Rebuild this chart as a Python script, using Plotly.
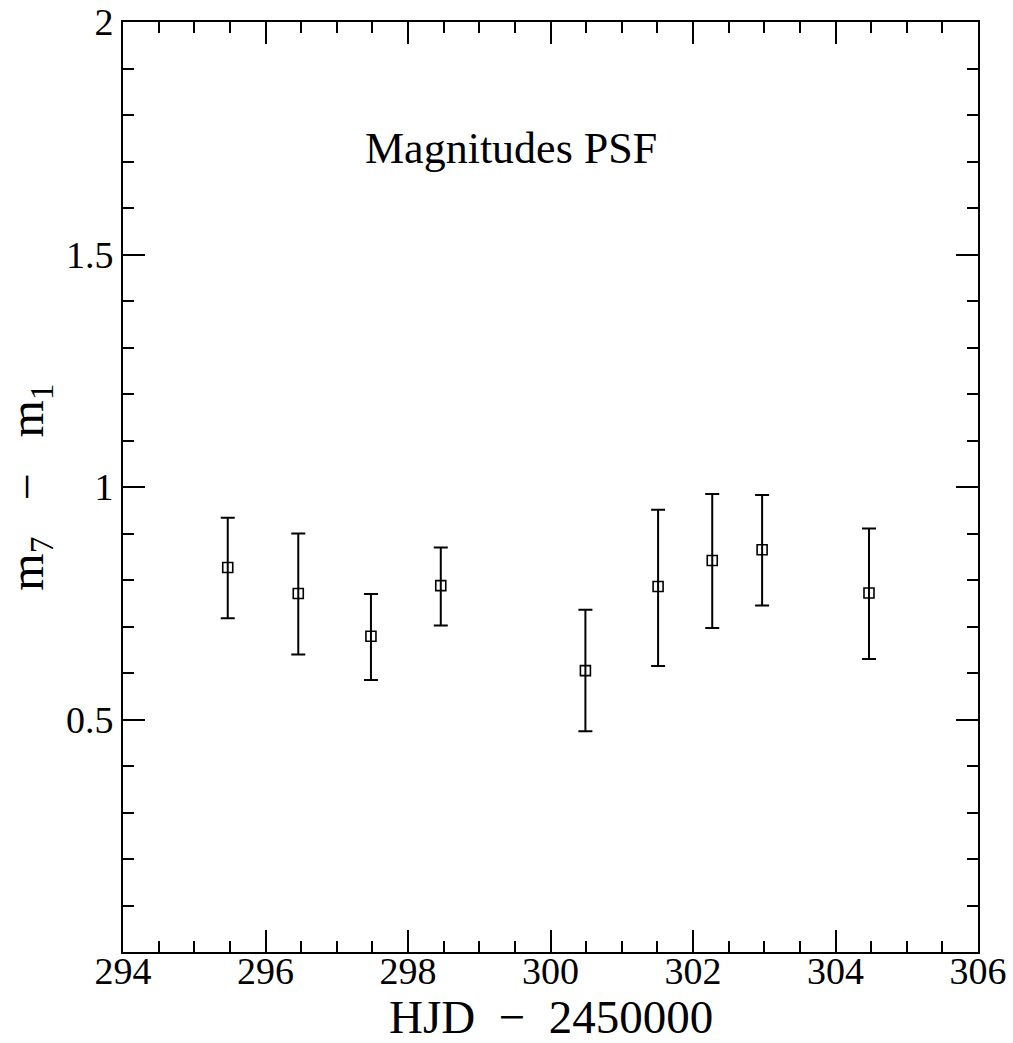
import plotly.graph_objects as go

# Light-curve data: heliocentric Julian date offset, colour difference and its error bars
hjd = [295.47, 296.46, 297.48, 298.46, 300.49, 301.51, 302.27, 302.97, 304.47]
dmag = [0.827, 0.771, 0.679, 0.788, 0.605, 0.786, 0.842, 0.865, 0.772]
err_plus = [0.107, 0.129, 0.091, 0.082, 0.131, 0.165, 0.143, 0.118, 0.139]
err_minus = [0.109, 0.131, 0.094, 0.086, 0.130, 0.171, 0.145, 0.120, 0.142]

x_ticks = [294, 296, 298, 300, 302, 304, 306]
y_ticks = [0.5, 1, 1.5, 2]
y_tick_text = ["0.5", "1", "1.5", "2"]

serif = "Liberation Serif, DejaVu Serif, serif"

fig = go.Figure()
fig.add_trace(go.Scatter(
    x=hjd, y=dmag, mode="markers",
    marker=dict(symbol="square-open", size=10, color="black",
                line=dict(width=1.6, color="black")),
    error_y=dict(type="data", symmetric=False, array=err_plus, arrayminus=err_minus,
                 color="black", thickness=2, width=7),
    showlegend=False,
))

fig.add_annotation(x=299.45, y=1.727, xref="x", yref="y", text="Magnitudes PSF",
                   showarrow=False, font=dict(family=serif, size=44, color="black"))

# x-axis title placed below the tick labels
fig.add_annotation(x=0.5, y=-0.0695, xref="paper", yref="paper", text="HJD  −  2450000",
                   showarrow=False, yanchor="middle",
                   font=dict(family=serif, size=47, color="black"))

axis_common = dict(
    showgrid=False, zeroline=False, showline=True, linecolor="black", linewidth=2,
    ticks="inside", mirror="allticks", tickcolor="black", tickwidth=2, ticklen=22,
    tickfont=dict(family=serif, size=38, color="black"), automargin=False,
)

fig.update_xaxes(
    range=[294, 306], tickvals=x_ticks, ticktext=[str(v) for v in x_ticks],
    minor=dict(ticks="inside", dtick=0.5, ticklen=11, tickwidth=2, tickcolor="black"),
    ticklabelstandoff=-16,
    **axis_common,
)
fig.update_yaxes(
    range=[0, 2], tickvals=y_ticks, ticktext=y_tick_text,
    minor=dict(ticks="inside", dtick=0.1, ticklen=11, tickwidth=2, tickcolor="black"),
    title=dict(text="m<sub>7</sub>&nbsp;&nbsp;&nbsp;−&nbsp;&nbsp;&nbsp;m<sub>1</sub>",
               font=dict(family=serif, size=48, color="black"), standoff=18),
    **axis_common,
)

fig.update_layout(
    width=1013, height=1043,
    margin=dict(l=123, r=35, t=22, b=91),
    paper_bgcolor="white", plot_bgcolor="white",
)

fig.write_html("out.html")
